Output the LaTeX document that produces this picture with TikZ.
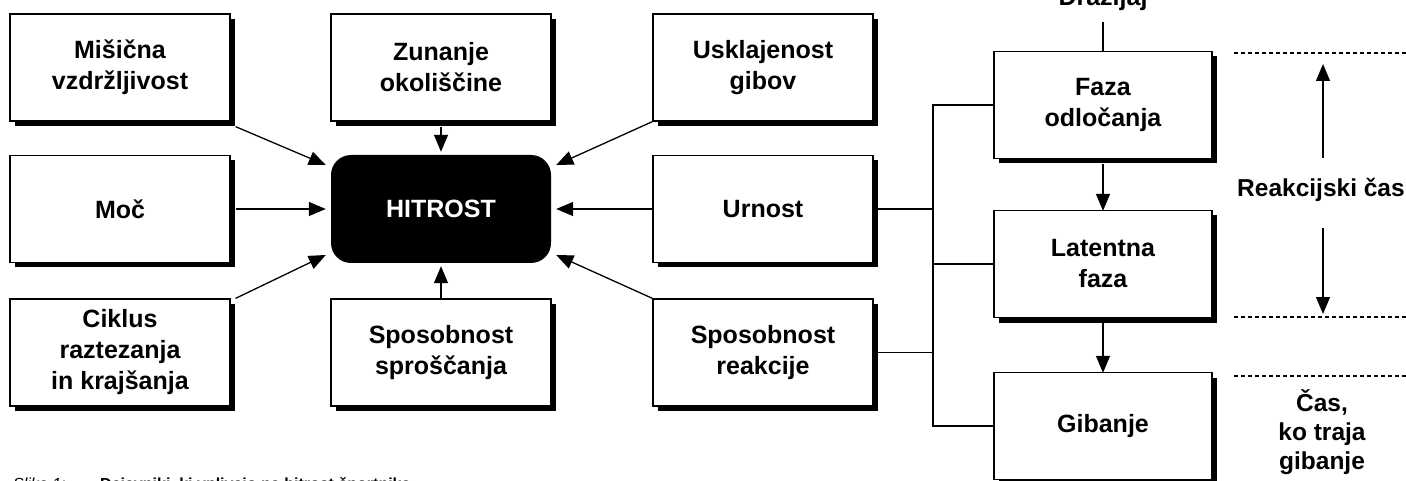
\documentclass[tikz,border=0pt]{standalone}
\usepackage{fontspec}
\setmainfont{Liberation Sans}
\usetikzlibrary{arrows.meta,shadows}
\begin{document}
\begin{tikzpicture}[x=1pt,y=-1pt,
  txt/.style={font=\fontsize{25}{31}\selectfont\bfseries},
  box/.style={txt, draw=black, line width=1.3pt, fill=white, minimum width=220pt,
    minimum height=107pt, align=center, inner sep=0pt,
    drop shadow={shadow xshift=5pt, shadow yshift=-5pt, fill=black, opacity=1}},
  fbox/.style={box, minimum width=218pt},
  arr/.style={line width=1.3pt, -{Triangle[length=17pt,width=14pt]}},
  ln/.style={line width=1.3pt},
  dsh/.style={line width=1.2pt, dash pattern=on 4pt off 3pt},
  lbl/.style={txt, align=center, inner sep=0pt}
]
\useasboundingbox (0,0) rectangle (1406,481);
% left column
\node[box] (m1) at (120,67.5) {Mišična\\vzdržljivost};
\node[box] (m2) at (120,209) {Moč};
\node[box] (m3) at (120,352.5) {Ciklus\\raztezanja\\in krajšanja};
% middle column
\node[box] (z1) at (441,67.5) {Zunanje\\okoliščine};
\node[txt, fill=black, text=white, rounded corners=20pt, minimum width=220pt,
  minimum height=108pt, inner sep=0pt] (H) at (441,209) {HITROST};
\node[box] (z3) at (441,352.5) {Sposobnost\\sproščanja};
% right column
\node[box] (u1) at (763,67.5) {Usklajenost\\gibov};
\node[box] (u2) at (763,209) {Urnost};
\node[box] (u3) at (763,352.5) {Sposobnost\\reakcije};
% phases
\node[fbox] (f1) at (1103,105) {Faza\\odločanja};
\node[fbox] (f2) at (1103,264) {Latentna\\faza};
\node[fbox] (f3) at (1103,426) {Gibanje};
% arrows to HITROST
\draw[arr] ([yshift=-5pt]z1.south) -- ([yshift=3pt]H.north);
\draw[arr] (z3.north) -- ([yshift=-3pt]H.south);
\draw[arr] ([xshift=5pt]m2.east) -- ([xshift=-5pt]H.west);
\draw[arr] (u2.west) -- ([xshift=5pt]H.east);
\draw[arr] ([shift={(5,5)}]m1.south east) -- ([shift={(-5,-44)}]H.west);
\draw[arr] ([shift={(5,0)}]m3.north east) -- ([shift={(-5,46)}]H.west);
\draw[arr] (u1.south west) -- ([shift={(5,-44)}]H.east);
\draw[arr] (u3.north west) -- ([shift={(5,46)}]H.east);
% bus
\coordinate (bus) at (933,0);
\draw[ln] (f1.west) -- (f1.west -| bus) -- (f3.west -| bus) -- (f3.west);
\draw[ln] (f2.west) -- (f2.west -| bus);
\draw[ln] (u2.east) -- (u2.east -| bus);
\draw[ln] (u3.east) -- (u3.east -| bus);
% phase arrows
\draw[arr] ([yshift=-5pt]f1.south) -- ([yshift=-1pt]f2.north);
\draw[arr] ([yshift=-5pt]f2.south) -- ([yshift=-1pt]f3.north);
% stimulus
\node[lbl, anchor=base] (dr) at (1103,6) {Dražljaj};
\coordinate (drb) at (1103,22);
\draw[ln] (drb) -- (f1.north);
% dashed lines
\coordinate (da1) at (1234,53); \coordinate (db1) at (1406,53);
\coordinate (da2) at (1234,317); \coordinate (db2) at (1406,317);
\coordinate (da3) at (1234,376); \coordinate (db3) at (1406,376);
\draw[dsh] (da1) -- (db1);
\draw[dsh] (da2) -- (db2);
\draw[dsh] (da3) -- (db3);
% time arrows
\coordinate (ua) at (1323,158); \coordinate (ub) at (1323,64);
\coordinate (va) at (1323,228); \coordinate (vb) at (1323,314);
\draw[arr] (ua) -- (ub);
\draw[arr] (va) -- (vb);
\node[font=\fontsize{24.5}{31}\selectfont\bfseries, inner sep=0pt, anchor=base west] (rc) at (1237,197) {Reakcijski čas};
\node[lbl, font=\fontsize{24.5}{29}\selectfont\bfseries] (ct) at (1322,432) {Čas,\\ko traja\\gibanje};
% caption (cut off at the bottom)
\node[anchor=base west, inner sep=0pt, font=\fontsize{16}{18}\selectfont\itshape] (cap1) at (13,489) {Slika 1:};
\node[anchor=base west, inner sep=0pt, font=\fontsize{16}{18}\selectfont\bfseries] (cap2) at (100,489) {Dejavniki, ki vplivajo na hitrost športnika};
\end{tikzpicture}
\end{document}
